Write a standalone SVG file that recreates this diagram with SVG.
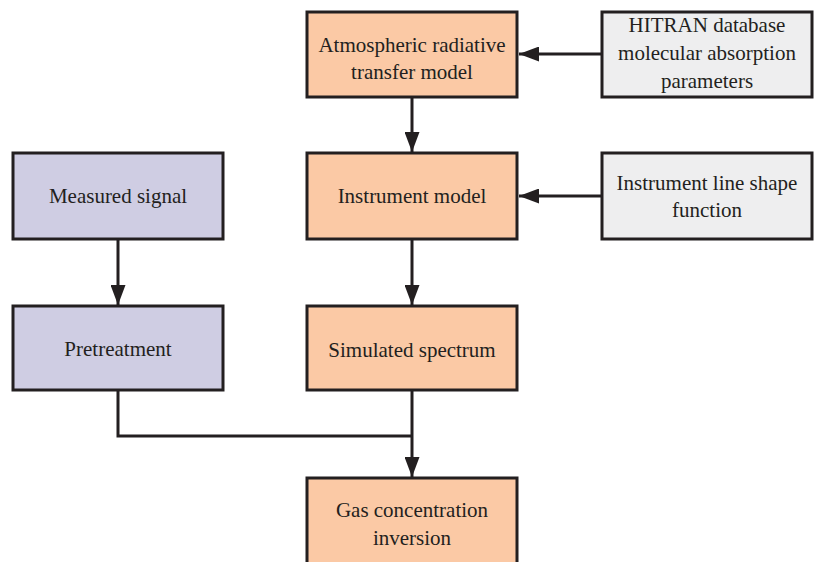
<svg xmlns="http://www.w3.org/2000/svg" width="817" height="562" viewBox="0 0 817 562">
<style>
rect{stroke:#231f20;stroke-width:3}
.o{fill:#fbc9a5}
.p{fill:#cfcde3}
.g{fill:#eeeeef}
text{font-size:21px;fill:#231f20;text-anchor:middle}
.c{fill:none;stroke:#231f20;stroke-width:3}
</style>
<defs>
<marker id="a" markerWidth="20" markerHeight="15" refX="20" refY="7.5" viewBox="0 0 20 15" orient="auto" markerUnits="userSpaceOnUse">
<path d="M0,0 L20,7.5 L0,15 Z" fill="#231f20"/>
</marker>
</defs>
<g id="connectors">
<path class="c" d="M412,97 V152" marker-end="url(#a)"/>
<path class="c" d="M412,239 V305" marker-end="url(#a)"/>
<path class="c" d="M118,239 V305" marker-end="url(#a)"/>
<path class="c" d="M602,54 H519" marker-end="url(#a)"/>
<path class="c" d="M602,196 H519" marker-end="url(#a)"/>
<path class="c" d="M118,390 V436 H412"/>
<path class="c" d="M412,390 V477" marker-end="url(#a)"/>
</g>
<g font-family="'Liberation Serif', 'Times New Roman', serif">
<g id="atm"><rect class="o" x="307" y="12" width="210" height="85"/><text x="412" y="52">Atmospheric radiative</text><text x="412" y="79">transfer model</text></g>
<g id="hitran"><rect class="g" x="602" y="12" width="210" height="85"/><text x="707" y="32">HITRAN database</text><text x="707" y="60">molecular absorption</text><text x="707" y="88">parameters</text></g>
<g id="measured"><rect class="p" x="13" y="153" width="210" height="86"/><text x="118" y="203">Measured signal</text></g>
<g id="instrument"><rect class="o" x="307" y="153" width="210" height="86"/><text x="412" y="203">Instrument model</text></g>
<g id="ils"><rect class="g" x="602" y="153" width="210" height="86"/><text x="707" y="190">Instrument line shape</text><text x="707" y="217">function</text></g>
<g id="pretreat"><rect class="p" x="13" y="306" width="210" height="84"/><text x="118" y="356">Pretreatment</text></g>
<g id="simulated"><rect class="o" x="307" y="306" width="210" height="84"/><text x="412" y="357">Simulated spectrum</text></g>
<g id="gas"><rect class="o" x="307" y="478" width="210" height="90"/><text x="412" y="517">Gas concentration</text><text x="412" y="545">inversion</text></g>
</g>
</svg>
